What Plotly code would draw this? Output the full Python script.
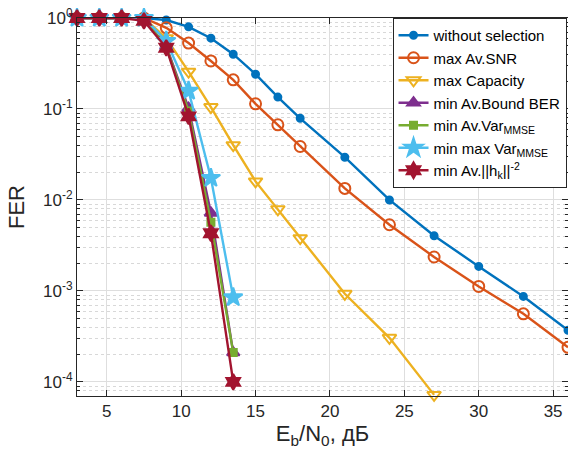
import plotly.graph_objects as go

# Eb/N0 grid, dB
snr_db = [3, 4.5, 6, 7.5, 9, 10.5, 12, 13.5, 15, 16.5, 18, 21, 24, 27, 30, 33, 36]

# frame error rate for each antenna-selection rule
fer_no_selection = [1, 1, 1, 1, 0.95, 0.80, 0.60, 0.40, 0.241, 0.135, 0.079,
                    0.0295, 0.0100, 0.00404, 0.00186, 0.00087, 0.00037]
fer_max_snr = [1, 1, 1, 1, 0.78, 0.53, 0.337, 0.209, 0.114, 0.067, 0.0387,
               0.0134, 0.00534, 0.00236, 0.00112, 0.00056, 0.00024]
fer_max_capacity = [1, 1, 1, 1, 0.60, 0.257, 0.105, 0.040, 0.016, 0.0079,
                    0.0038, 0.00093, 0.000305, 0.000072]
fer_min_bound_ber = [1, 1, 1, 0.98, 0.49, 0.102, 0.0072, 0.00021]
fer_min_var_mmse = [1, 1, 1, 0.98, 0.48, 0.095, 0.0057, 0.00021]
fer_min_max_var = [1, 1, 1, 1, 0.56, 0.158, 0.0174, 0.00085]
fer_min_inv_norm = [1, 1, 1, 0.93, 0.47, 0.083, 0.0043, 0.0001]

series_names = [
    "without selection",
    "max Av.SNR",
    "max Capacity",
    "min Av.Bound BER",
    "min Av.Var<sub>MMSE</sub>",
    "min max Var<sub>MMSE</sub>",
    "min Av.||h<sub>k</sub>||<sup>-2</sup>",
]

x_ticks = [5, 10, 15, 20, 25, 30, 35]
y_ticks = [1e-4, 1e-3, 1e-2, 1e-1, 1]
y_tick_text = ["10<sup>-4</sup>", "10<sup>-3</sup>", "10<sup>-2</sup>",
               "10<sup>-1</sup>", "10<sup>0</sup>"]

FONT = "Liberation Sans, Arial, Helvetica, sans-serif"
INK = "#262626"

styles = [
    dict(color="#0072BD", symbol="circle", size=7),
    dict(color="#D95319", symbol="circle-open", size=11),
    dict(color="#EDB120", symbol="triangle-down-open", size=12),
    dict(color="#7E2F8E", symbol="triangle-up", size=11),
    dict(color="#77AC30", symbol="square", size=7),
    dict(color="#4DBEEE", symbol="star", size=14),
    dict(color="#A2142F", symbol="hexagram", size=12),
]

data = [fer_no_selection, fer_max_snr, fer_max_capacity, fer_min_bound_ber,
        fer_min_var_mmse, fer_min_max_var, fer_min_inv_norm]

fig = go.Figure()
for name, ys, st in zip(series_names, data, styles):
    fig.add_trace(go.Scatter(
        x=snr_db[:len(ys)], y=ys, name=name, mode="lines+markers",
        cliponaxis=False,
        line=dict(color=st["color"], width=2.4),
        marker=dict(symbol=st["symbol"], size=st["size"], color=st["color"],
                    line=dict(color=st["color"], width=2)),
    ))

minor_y = [m * 10 ** e for e in range(-5, 0) for m in range(2, 10)]

fig.update_layout(
    width=568, height=461,
    margin=dict(l=77, r=0, t=18, b=65),
    paper_bgcolor="white", plot_bgcolor="white",
    font=dict(family=FONT, color=INK, size=17),
    showlegend=True,
    legend=dict(
        x=0.997, xanchor="right", y=1.0, yanchor="top",
        bgcolor="white", bordercolor=INK, borderwidth=1,
        font=dict(family=FONT, size=15, color="black"),
        tracegroupgap=0,
    ),
)

fig.update_xaxes(
    range=[3, 36], tickvals=x_ticks, ticks="inside", ticklen=6,
    tickcolor=INK, showline=True, linecolor=INK, linewidth=1, mirror="ticks",
    showgrid=True, gridcolor="#dedede", gridwidth=1, zeroline=False,
    tickfont=dict(size=17, color=INK),
    title=dict(text="E<sub>b</sub>/N<sub>0</sub>, дБ", font=dict(size=22, color=INK),
               standoff=5),
)

fig.update_yaxes(
    type="log", range=[-4.155, 0], tickvals=y_ticks, ticktext=y_tick_text,
    ticks="inside", ticklen=6, tickcolor=INK,
    showline=True, linecolor=INK, linewidth=1, mirror="ticks",
    showgrid=True, gridcolor="#dedede", gridwidth=1, zeroline=False,
    tickfont=dict(size=17, color=INK),
    minor=dict(tickvals=minor_y, ticks="inside", ticklen=3, tickcolor=INK,
               showgrid=True, gridcolor="#d8d8d8", griddash="dot", gridwidth=1),
    title=dict(text="FER", font=dict(size=22, color=INK), standoff=12),
)

fig.write_html("out.html")
